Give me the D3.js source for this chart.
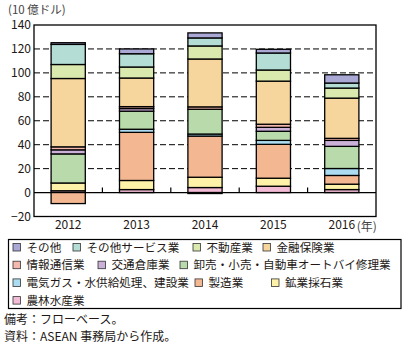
<!DOCTYPE html>
<html><head><meta charset="utf-8">
<script src="https://cdn.jsdelivr.net/npm/d3@7"></script>
<style>
body{margin:0;background:#fff;}
text{font-family:"Noto Sans CJK JP","Noto Sans",sans-serif;fill:#231815;}
</style></head>
<body><svg id="c" width="408" height="348"></svg>
<script>
const years = ["2012","2013","2014","2015","2016"];
const seriesNames = ["農林水産業","鉱業採石業","製造業","電気ガス・水供給処理、建設業","卸売・小売・自動車オートバイ修理業","交通倉庫業","情報通信業","金融保険業","不動産業","その他サービス業","その他"];
const seriesColors = ["#f3bcd6","#fdf2a7","#f3b792","#acdcf1","#b9dbac","#cbb0d7","#f4b9ae","#f6d69d","#dae9ae","#b4ddd5","#aaa9d5"];
const agriculture = [1.5, 2.5, 4.2, 5.3, 2.5];
const mining      = [6.5, 7.6, 8.6, 6.7, 4.5];
const manufacturing = [-9.2, 40.2, 34.4, 28.3, 7.3];
const utilities   = [0, 2.6, 1.7, 3.3, 5.8];
const wholesale   = [24.3, 15.1, 20.7, 7.6, 18.5];
const transport   = [3.4, 2.2, -0.8, 3.3, 5.0];
const infoComm    = [2.5, 1.6, 2.0, 2.6, 1.7];
const finance     = [57.1, 23.9, 40.0, 36.0, 33.6];
const realEstate  = [11.7, 9.2, 10.9, 9.3, 8.4];
const otherServices = [16.8, 11.1, 6.7, 14.2, 4.2];
const others      = [1.4, 4.0, 4.2, 3.1, 6.9];
const yTicks = [-20,0,20,40,60,80,100,120,140];
const legendOrder = ["その他","その他サービス業","不動産業","金融保険業","情報通信業","交通倉庫業","卸売・小売・自動車オートバイ修理業","電気ガス・水供給処理、建設業","製造業","鉱業採石業","農林水産業"];

const seriesValues = [agriculture,mining,manufacturing,utilities,wholesale,transport,infoComm,finance,realEstate,otherServices,others];
const table = years.map((y,i)=>{const o={year:y}; seriesNames.forEach((n,j)=>o[n]=seriesValues[j][i]); return o;});
const color = d3.scaleOrdinal(seriesNames, seriesColors);

const svg = d3.select("#c");
const L=34, R=376, T=25, B=216.5;
const x = d3.scaleBand(years,[L,R]).paddingInner(0.5).paddingOuter(0.25);
const y = d3.scaleLinear([-20,140],[B,T]);

// title
svg.append("text").attr("x",8).attr("y",14).attr("font-size",11.5).style("fill","#444").text("(10 億ドル)");

// grid
svg.append("g").selectAll("line").data(yTicks.filter(v=>v>0&&v<140)).join("line")
  .attr("x1",L).attr("x2",R).attr("y1",d=>y(d)).attr("y2",d=>y(d))
  .attr("stroke","#000").attr("stroke-width",1).attr("stroke-dasharray","6,3");

// zero line + ticks
svg.append("line").attr("x1",L).attr("x2",R).attr("y1",y(0)).attr("y2",y(0)).attr("stroke","#000").attr("stroke-width",1.3);
const step = x.step();
svg.append("g").selectAll("line").data(years.slice(1)).join("line")
  .attr("x1",d=>x(d)-(step-x.bandwidth())/2).attr("x2",d=>x(d)-(step-x.bandwidth())/2)
  .attr("y1",y(0)).attr("y2",y(0)-5).attr("stroke","#000").attr("stroke-width",1.2);

// bars
const stack = d3.stack().keys(seriesNames).offset(d3.stackOffsetDiverging);
const layers = stack(table);
svg.append("g").selectAll("g").data(layers).join("g").attr("fill",d=>color(d.key))
  .selectAll("rect").data(d=>d.filter(s=>Math.abs(s[1]-s[0])>0.001)).join("rect")
  .attr("x",d=>x(d.data.year)).attr("width",x.bandwidth())
  .attr("y",d=>y(Math.max(d[0],d[1]))).attr("height",d=>Math.abs(y(d[0])-y(d[1])))
  .attr("stroke","#000").attr("stroke-width",1.3);

// frame
svg.append("rect").attr("x",L).attr("y",T).attr("width",R-L).attr("height",B-T)
  .attr("fill","none").attr("stroke","#000").attr("stroke-width",1.3);

// y axis labels
const yAxis = d3.axisLeft(y).tickValues(yTicks).tickSize(0).tickPadding(3);
const ga = svg.append("g").attr("transform",`translate(${L},0)`).call(yAxis);
ga.select(".domain").remove();
ga.selectAll("text").attr("font-size",12).style("font-family",'"Noto Sans CJK JP",sans-serif').style("fill","#231815");

// x axis labels
const xAxis = d3.axisBottom(x).tickSize(0).tickPadding(4);
const gx = svg.append("g").attr("transform",`translate(0,${B})`).call(xAxis);
gx.select(".domain").remove();
gx.selectAll("text").attr("font-size",12).style("font-family",'"Noto Sans CJK JP",sans-serif').style("fill","#231815");
svg.append("text").attr("x",x("2016")+x.bandwidth()/2+15).attr("y",231).attr("font-size",12).style("fill","#444").text("(年)");

// legend
svg.append("rect").attr("x",8.5).attr("y",239.5).attr("width",392.5).attr("height",69).attr("fill","none").attr("stroke","#000").attr("stroke-width",1.2);
const rowsX = [[13,73,193,263],[13,98,180],[13,195,271.5],[13]];
let k=0;
rowsX.forEach((row,ri)=>{
  row.forEach(px=>{
    const name = legendOrder[k++];
    const ry = 243.5 + ri*17.7;
    svg.append("rect").attr("x",px).attr("y",ry).attr("width",7.5).attr("height",7.5)
      .attr("fill",color(name)).attr("stroke","#333").attr("stroke-width",0.8);
    svg.append("text").attr("x",px+13.5).attr("y",ry+8).attr("font-size",11.6).text(name);
  });
});

// notes
svg.append("text").attr("x",4).attr("y",324).attr("font-size",12).text("備考：フローベース。");
svg.append("text").attr("x",4).attr("y",341).attr("font-size",12).text("資料：ASEAN 事務局から作成。");
</script></body></html>
